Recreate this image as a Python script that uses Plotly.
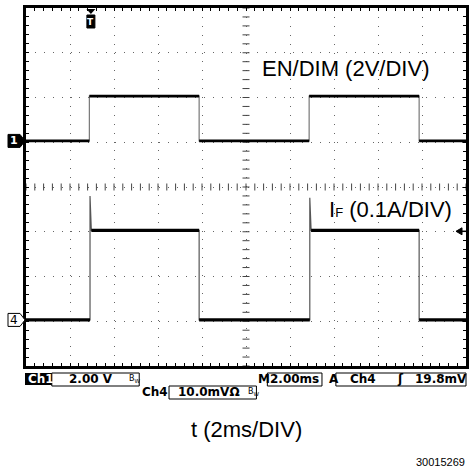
import numpy as np
import plotly.graph_objects as go

# ---------------- data ----------------
ms_per_div = 2.0
time_range_ms = [0.0, 20.0]                 # 10 divisions
ch1_edge_ms = [2.88, 7.87, 12.87, 17.87]    # rise, fall, rise, fall
ch1_low_V = 0.0
ch1_high_V = 2.0
ch4_edge_ms = [2.91, 7.87, 12.90, 17.87]    # rise, fall, rise, fall
ch4_low_A = 0.0
ch4_high_A = 0.20
ch4_peak_A = [0.277, 0.273]                 # overshoot at each rising edge
trigger_ms = 2.95
trigger_level_mV = 19.8

ch1_V_per_div = 2.0
ch4_A_per_div = 0.1
ch4_mV_per_div = 10.0
ch1_offset_div = 1.03
ch4_offset_div = -2.97

# ---------------- figure geometry ----------------
W, H = 471, 472
L, R, T, B = 26, 2, 8, 106
Y_DIVS = 8


def PX(px):
    return (px - L) / (W - L - R)


def PY(py):
    return (H - B - py) / (H - T - B)


def div_to_paper(d):
    return (d + Y_DIVS / 2) / Y_DIVS


def to_div(vals, per_div, offset):
    return [None if v is None else offset + v / per_div for v in vals]


# ---------------- build waveforms ----------------
t0, t1 = time_range_ms
# CH1
c1_t, c1_v = [t0], [ch1_low_V]
for i, e in enumerate(ch1_edge_ms):
    before, after = (ch1_low_V, ch1_high_V) if i % 2 == 0 else (ch1_high_V, ch1_low_V)
    c1_t += [e, e]
    c1_v += [before, after]
c1_t.append(t1)
c1_v.append(ch1_low_V)
c1_ht, c1_hv = [], []
bounds = [t0] + ch1_edge_ms + [t1]
for i in range(len(bounds) - 1):
    lvl = ch1_low_V if i % 2 == 0 else ch1_high_V
    c1_ht += [bounds[i], bounds[i + 1], None]
    c1_hv += [lvl, lvl, None]

# CH4 with overshoot
dt = 0.06
c4_t, c4_v = [t0], [ch4_low_A]
c4_ht, c4_hv = [], []
prev = t0
for i, e in enumerate(ch4_edge_ms):
    if i % 2 == 0:
        c4_ht += [prev, e, None]
        c4_hv += [ch4_low_A, ch4_low_A, None]
        pk = ch4_peak_A[i // 2]
        c4_t += [e, e, e + dt]
        c4_v += [ch4_low_A, pk, ch4_high_A]
        prev = e + dt
    else:
        c4_ht += [prev, e, None]
        c4_hv += [ch4_high_A, ch4_high_A, None]
        c4_t += [e, e]
        c4_v += [ch4_high_A, ch4_low_A]
        prev = e
c4_t.append(t1)
c4_v.append(ch4_low_A)
c4_ht += [prev, t1, None]
c4_hv += [ch4_low_A, ch4_low_A, None]

fig = go.Figure()

# centre cross-hair tick marks
fig.add_trace(go.Scatter(
    x=np.arange(t0, t1 + 1e-9, ms_per_div / 5), y=np.zeros(51),
    mode="markers", hoverinfo="skip", cliponaxis=True,
    marker=dict(symbol="line-ns", size=5, line=dict(width=1, color="#444"))))
fig.add_trace(go.Scatter(
    x=np.full(41, (t0 + t1) / 2), y=np.arange(-4, 4 + 1e-9, 0.2),
    mode="markers", hoverinfo="skip", cliponaxis=True,
    marker=dict(symbol="line-ew", size=5, line=dict(width=1, color="#444"))))

# waveforms: thin grey full trace, thick black flat parts
fig.add_trace(go.Scatter(x=c1_t, y=to_div(c1_v, ch1_V_per_div, ch1_offset_div),
                         mode="lines", line=dict(color="#777", width=1.2)))
fig.add_trace(go.Scatter(x=c1_ht, y=to_div(c1_hv, ch1_V_per_div, ch1_offset_div),
                         mode="lines", line=dict(color="black", width=2.6)))
fig.add_trace(go.Scatter(x=c4_t, y=to_div(c4_v, ch4_A_per_div, ch4_offset_div),
                         mode="lines", line=dict(color="#555", width=1.2)))
fig.add_trace(go.Scatter(x=c4_ht, y=to_div(c4_hv, ch4_A_per_div, ch4_offset_div),
                         mode="lines", line=dict(color="black", width=3.2)))

axis_common = dict(showticklabels=False, showline=True, linecolor="black",
                   linewidth=2.5, mirror="allticks", ticks="inside", ticklen=3,
                   tickcolor="black", tickwidth=1, zeroline=False,
                   showgrid=True, gridcolor="#666", gridwidth=1,
                   griddash="1px,7.9px", fixedrange=True)

fig.update_xaxes(range=time_range_ms, dtick=ms_per_div, tick0=0,
                 minor=dict(dtick=ms_per_div / 5, ticks="inside", ticklen=3,
                            tickcolor="black", showgrid=False),
                 **axis_common)
fig.update_yaxes(range=[-Y_DIVS / 2, Y_DIVS / 2], dtick=1, tick0=0,
                 minor=dict(dtick=0.2, ticks="inside", ticklen=3,
                            tickcolor="black", showgrid=False),
                 **axis_common)

shapes = []
ann = []
lab_font = dict(family="Liberation Sans, Arial", size=22, color="black")
st_font = dict(family="DejaVu Sans", size=12, color="black")
small_font = dict(family="DejaVu Sans", size=8, color="black")

# channel ground markers (paper-referenced so they are not clipped)
pent = "M-18,-6.5 L-6,-6.5 L-1,0 L-6,6.5 L-18,6.5 Z"
for off, fill in ((ch1_offset_div, "black"), (ch4_offset_div, "white")):
    shapes.append(dict(type="path", xref="paper", yref="paper",
                       xsizemode="pixel", ysizemode="pixel",
                       xanchor=0, yanchor=div_to_paper(off), path=pent,
                       fillcolor=fill, line=dict(color="black", width=1)))
ann.append(dict(x=0, y=div_to_paper(ch1_offset_div), xref="paper", yref="paper",
                xshift=-12, xanchor="center", yanchor="middle", text="<b>1</b>",
                showarrow=False, font=dict(family="DejaVu Sans", size=11, color="white")))
ann.append(dict(x=0, y=div_to_paper(ch4_offset_div), xref="paper", yref="paper",
                xshift=-12, xanchor="center", yanchor="middle", text="4",
                showarrow=False, font=dict(family="DejaVu Sans", size=12, color="black")))

# trigger marker at top
shapes.append(dict(type="path", xref="x", yref="paper", xsizemode="pixel", ysizemode="pixel",
                   xanchor=trigger_ms, yanchor=1, path="M-4.5,-1 L4.5,-1 L0,-6 Z",
                   fillcolor="black", line=dict(width=0)))
shapes.append(dict(type="path", xref="x", yref="paper", xsizemode="pixel", ysizemode="pixel",
                   xanchor=trigger_ms, yanchor=1, path="M-4,-7 L4,-7 L4,-20 L-4,-20 Z",
                   fillcolor="black", line=dict(color="black", width=1)))
ann.append(dict(x=trigger_ms, y=1, xref="x", yref="paper", yshift=-13.5,
                xanchor="center", yanchor="middle", text="<b>T</b>",
                showarrow=False, font=dict(family="DejaVu Sans", size=9, color="white")))

# trigger level arrow on the right (drawn as a shape)
trig_y = div_to_paper(ch4_offset_div + trigger_level_mV / ch4_mV_per_div)
shapes.append(dict(type="path", xref="paper", yref="paper", xsizemode="pixel",
                   ysizemode="pixel", xanchor=1, yanchor=trig_y,
                   path="M-8,0 L0,0", line=dict(color="black", width=1.5)))
shapes.append(dict(type="path", xref="paper", yref="paper", xsizemode="pixel",
                   ysizemode="pixel", xanchor=1, yanchor=trig_y,
                   path="M-10,0 L-4,-3.5 L-4,3.5 Z", fillcolor="black",
                   line=dict(color="black", width=1)))

# channel labels
ann.append(dict(x=PX(262), y=PY(68), xref="paper", yref="paper", xanchor="left",
                yanchor="middle", text="EN/DIM (2V/DIV)", showarrow=False, font=lab_font))
ann.append(dict(x=PX(329), y=PY(209), xref="paper", yref="paper", xanchor="left",
                yanchor="middle", text='I<span style="font-size:13px">F</span> (0.1A/DIV)',
                showarrow=False, font=lab_font))


# status bar
def box(x0, x1, y0, y1, fill="rgba(0,0,0,0)", lw=1):
    shapes.append(dict(type="rect", xref="paper", yref="paper",
                       x0=PX(x0), x1=PX(x1), y0=PY(y1), y1=PY(y0),
                       fillcolor=fill, line=dict(color="black", width=lw)))


def txt(px, py, s, font=st_font, anchor="left"):
    ann.append(dict(x=PX(px), y=PY(py), xref="paper", yref="paper", xanchor=anchor,
                    yanchor="middle", text=s, showarrow=False, font=font))


box(25, 52, 373, 385, fill="black", lw=0)
box(52, 140, 373, 386)
box(170, 258, 386, 399)
box(269, 324, 373, 386)
box(338, 469, 373, 386)

txt(26, 379, "<b>Ch1</b>", dict(family="DejaVu Sans", size=12, color="white"))
txt(67, 379, "<b>%.2f V</b>" % ch1_V_per_div)
txt(128, 379, "B<sub>W</sub>", small_font)
txt(141, 392, "<b>Ch4</b>")
txt(177, 392, "<b>%.1fmVΩ</b>" % ch4_mV_per_div)
txt(248, 392, "B<sub>W</sub>", small_font)
txt(258, 379, "<b>M</b>")
txt(270, 379, "<b>%.2fms</b>" % ms_per_div)
txt(329, 379, "<b>A</b>")
txt(350, 379, "<b>Ch4</b>")
txt(398, 379, "<b>ʃ</b>")
txt(416, 379, "<b>%.1fmV</b>" % trigger_level_mV)

txt(248, 429, "t (2ms/DIV)", lab_font, anchor="center")
txt(470, 462, "30015269", dict(family="Liberation Sans, Arial", size=11, color="black"),
    anchor="right")

fig.update_layout(width=W, height=H, margin=dict(l=L, r=R, t=T, b=B, pad=0),
                  plot_bgcolor="white", paper_bgcolor="white", showlegend=False,
                  shapes=shapes, annotations=ann)

fig.write_html("out.html", config={"displayModeBar": False},
               post_script="document.body.style.margin='0';")
